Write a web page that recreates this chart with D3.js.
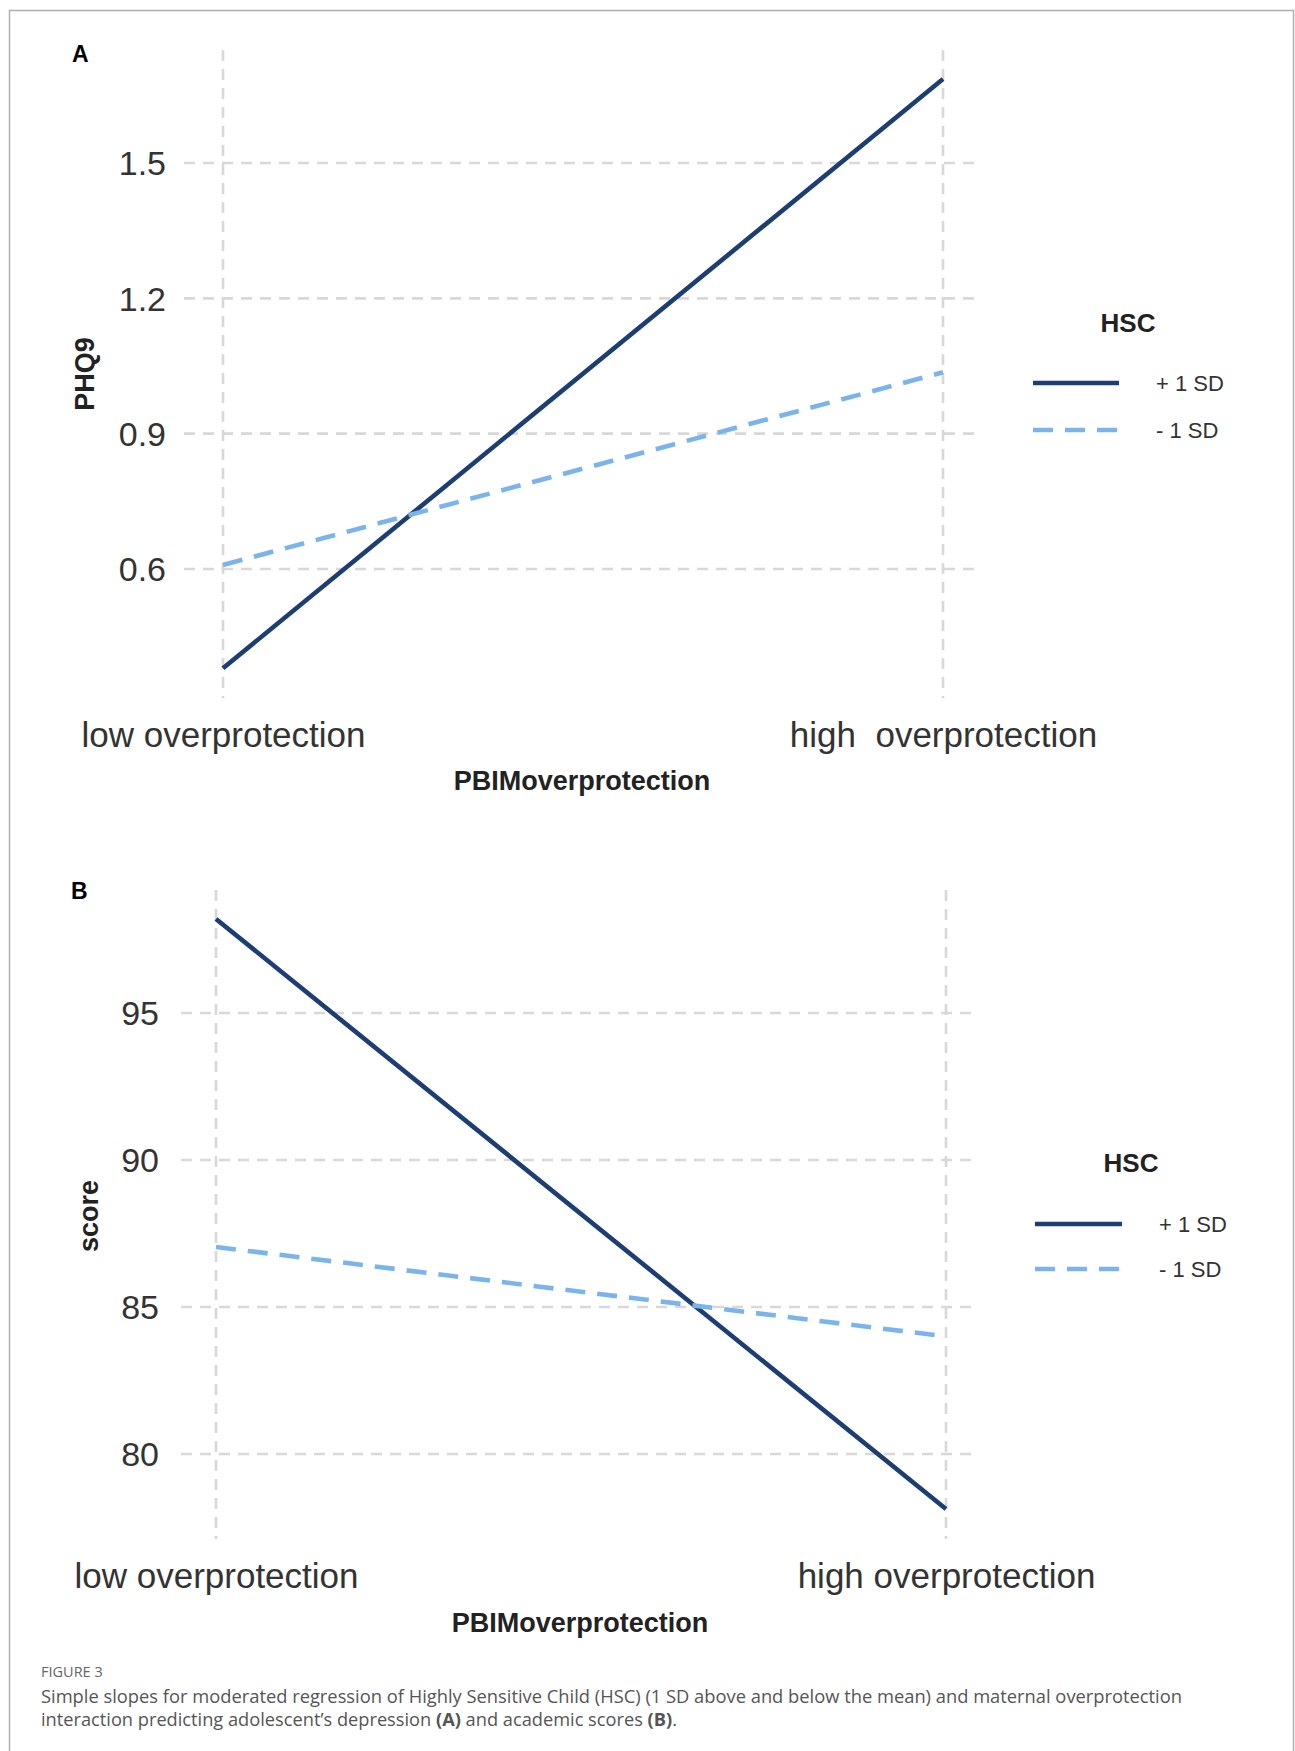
<!DOCTYPE html>
<html>
<head>
<meta charset="utf-8">
<script src="https://cdn.jsdelivr.net/npm/d3@7"></script>
<style>
    html, body { margin: 0; padding: 0; background: #fff; }
    svg { display: block; }
    text { font-family: "Liberation Sans", Arial, sans-serif; }
    .caption text { font-family: "Open Sans", "Noto Sans", sans-serif; }
</style>
</head>
<body>
<svg id="chart" width="1295" height="1751"></svg>
<script>
// values
const categories = ['low overprotection', 'high overprotection'];
const categoryLabelsA = ['low overprotection', 'high  overprotection'];
const categoryLabelsB = ['low overprotection', 'high overprotection'];
const seriesNames = ['+ 1 SD', '- 1 SD'];
const phq9Plus = [0.38, 1.686];
const phq9Minus = [0.609, 1.036];
const scorePlus = [98.2, 78.13];
const scoreMinus = [87.04, 84.0];
const phq9Ticks = [0.6, 0.9, 1.2, 1.5];
const scoreTicks = [80, 85, 90, 95];

const colors = ['#1c3e72', '#7ab4ea'];
const dashes = [null, '20,12'];

const svg = d3.select('#chart');

// figure frame
svg.append('rect')
    .attr('x', 9.5)
    .attr('y', 10.5)
    .attr('width', 1284)
    .attr('height', 1800)
    .attr('fill', 'none')
    .attr('stroke', '#b0b0b0')
    .attr('stroke-width', 1.5);

function drawPanel(cfg) {
    const g = svg.append('g').attr('class', 'panel');

    const x = d3.scalePoint()
        .domain(categories)
        .range(cfg.xRange);

    const y = d3.scaleLinear()
        .domain(cfg.yDomain)
        .range(cfg.yRange);

    // horizontal grid
    g.append('g')
        .attr('class', 'grid-y')
        .selectAll('line')
        .data(cfg.ticks)
        .enter().append('line')
        .attr('x1', cfg.gridX[0])
        .attr('x2', cfg.gridX[1])
        .attr('y1', d => y(d))
        .attr('y2', d => y(d))
        .attr('stroke', '#d8d8d8')
        .attr('stroke-width', 2.6)
        .attr('stroke-dasharray', '11,8');

    // vertical grid
    g.append('g')
        .attr('class', 'grid-x')
        .selectAll('line')
        .data(categories)
        .enter().append('line')
        .attr('x1', d => x(d))
        .attr('x2', d => x(d))
        .attr('y1', cfg.gridY[0])
        .attr('y2', cfg.gridY[1])
        .attr('stroke', '#d8d8d8')
        .attr('stroke-width', 2.6)
        .attr('stroke-dasharray', '11,8');

    // y axis labels
    const yAxis = g.append('g')
        .attr('class', 'yAxis')
        .attr('transform', 'translate(' + cfg.yLabelX + ',0)')
        .call(d3.axisLeft(y).tickValues(cfg.ticks).tickSize(0).tickPadding(0)
            .tickFormat(cfg.tickFormat));
    yAxis.select('.domain').remove();
    yAxis.selectAll('.tick text')
        .attr('font-size', 34)
        .attr('fill', '#333')
        .attr('dy', '0.35em');

    // x axis labels
    const xAxis = g.append('g')
        .attr('class', 'xAxis')
        .attr('transform', 'translate(0,' + cfg.xLabelY + ')')
        .call(d3.axisBottom(x).tickSize(0).tickPadding(0)
            .tickFormat((d, i) => cfg.xLabels[i]));
    xAxis.select('.domain').remove();
    xAxis.selectAll('.tick text')
        .attr('font-size', 35)
        .attr('fill', '#333')
        .attr('dy', 0)
        .style('white-space', 'pre');

    // lines
    const line = d3.line()
        .x((d, i) => x(categories[i]))
        .y(d => y(d));

    g.append('g')
        .attr('class', 'lines')
        .selectAll('path')
        .data(cfg.series)
        .enter().append('path')
        .attr('d', d => line(d))
        .attr('fill', 'none')
        .attr('stroke', (d, i) => colors[i])
        .attr('stroke-width', 4.6)
        .attr('stroke-dasharray', (d, i) => dashes[i]);

    // axis titles
    g.append('text')
        .attr('x', cfg.xTitle[0])
        .attr('y', cfg.xTitle[1])
        .attr('text-anchor', 'middle')
        .attr('font-size', 27)
        .attr('font-weight', 'bold')
        .attr('fill', '#222')
        .text('PBIMoverprotection');

    g.append('text')
        .attr('transform', 'translate(' + cfg.yTitle[0] + ',' + cfg.yTitle[1] + ') rotate(-90)')
        .attr('text-anchor', 'middle')
        .attr('dy', '0.36em')
        .attr('font-size', 27)
        .attr('font-weight', 'bold')
        .attr('fill', '#222')
        .text(cfg.yTitleText);

    // panel letter
    g.append('text')
        .attr('x', cfg.letter[0])
        .attr('y', cfg.letter[1])
        .attr('font-size', 23)
        .attr('font-weight', 'bold')
        .attr('fill', '#000')
        .text(cfg.letterText);

    // legend
    const legend = g.append('g').attr('class', 'legend');
    legend.append('text')
        .attr('x', cfg.legendTitle[0])
        .attr('y', cfg.legendTitle[1])
        .attr('dy', '0.36em')
        .attr('text-anchor', 'middle')
        .attr('font-size', 26)
        .attr('font-weight', 'bold')
        .attr('fill', '#222')
        .text('HSC');

    const items = legend.selectAll('.item')
        .data(seriesNames)
        .enter().append('g')
        .attr('class', 'item')
        .attr('transform', (d, i) => 'translate(0,' + cfg.legendRows[i] + ')');

    items.append('line')
        .attr('x1', cfg.legendKey[0])
        .attr('x2', cfg.legendKey[1])
        .attr('stroke', (d, i) => colors[i])
        .attr('stroke-width', 4.6)
        .attr('stroke-dasharray', (d, i) => dashes[i]);

    items.append('text')
        .attr('x', cfg.legendLabelX)
        .attr('dy', '0.36em')
        .attr('font-size', 22)
        .attr('fill', '#333')
        .text(d => d);
}

drawPanel({
    series: [phq9Plus, phq9Minus],
    ticks: phq9Ticks,
    tickFormat: d3.format('.1f'),
    xLabels: categoryLabelsA,
    xRange: [223, 943],
    yDomain: [0.6, 1.5],
    yRange: [569, 163],
    gridX: [184, 982],
    gridY: [50, 698],
    yLabelX: 166,
    xLabelY: 747,
    xTitle: [582, 790],
    yTitle: [84, 374],
    yTitleText: 'PHQ9',
    letter: [72, 62],
    letterText: 'A',
    legendTitle: [1128, 323],
    legendRows: [383, 430],
    legendKey: [1033, 1119],
    legendLabelX: 1156,
});

drawPanel({
    series: [scorePlus, scoreMinus],
    ticks: scoreTicks,
    tickFormat: d3.format('d'),
    xLabels: categoryLabelsB,
    xRange: [216, 946],
    yDomain: [80, 95],
    yRange: [1454, 1013],
    gridX: [181, 979],
    gridY: [890, 1539],
    yLabelX: 159,
    xLabelY: 1588,
    xTitle: [580, 1632],
    yTitle: [88, 1216],
    yTitleText: 'score',
    letter: [71, 899],
    letterText: 'B',
    legendTitle: [1131, 1163],
    legendRows: [1224, 1269],
    legendKey: [1035, 1122],
    legendLabelX: 1159,
});

// caption
const caption = svg.append('g').attr('class', 'caption');
caption.append('text')
    .attr('x', 41)
    .attr('y', 1677)
    .attr('font-size', 14.5)
    .attr('fill', '#666')
    .text('FIGURE 3');

caption.append('text')
    .attr('x', 41)
    .attr('y', 1703)
    .attr('font-size', 17.5)
    .attr('fill', '#555')
    .attr('textLength', 1141)
    .attr('lengthAdjust', 'spacingAndGlyphs')
    .text('Simple slopes for moderated regression of Highly Sensitive Child (HSC) (1 SD above and below the mean) and maternal overprotection');

const line2 = caption.append('text')
    .attr('x', 41)
    .attr('y', 1726)
    .attr('font-size', 17.5)
    .attr('fill', '#555')
    .attr('textLength', 636)
    .attr('lengthAdjust', 'spacingAndGlyphs');
line2.append('tspan').text('interaction predicting adolescent\u2019s depression ');
line2.append('tspan').attr('font-weight', 'bold').text('(A)');
line2.append('tspan').text(' and academic scores ');
line2.append('tspan').attr('font-weight', 'bold').text('(B)');
line2.append('tspan').text('.');
</script>
</body>
</html>
